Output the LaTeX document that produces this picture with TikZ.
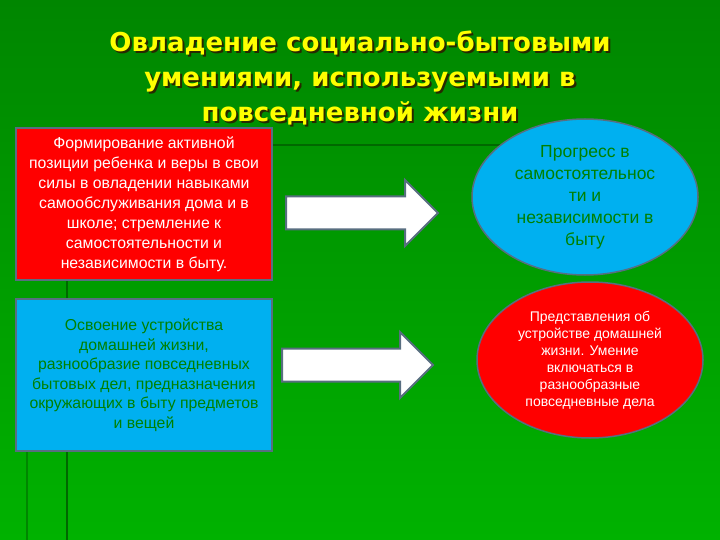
\documentclass[tikz,border=0pt]{standalone}
\usepackage{fontspec}
\setmainfont{Liberation Sans}
\newfontfamily\titlefont{DejaVu Sans}
\usetikzlibrary{shapes.geometric,positioning}
\definecolor{bgtop}{RGB}{0,134,0}
\definecolor{bgbot}{RGB}{0,178,0}
\definecolor{vline}{RGB}{0,104,0}
\definecolor{vframe}{RGB}{88,110,128}
\definecolor{vred}{RGB}{255,0,0}
\definecolor{vblue}{RGB}{0,176,240}
\definecolor{vtxt}{RGB}{0,128,0}
\definecolor{vyellow}{RGB}{255,255,0}
\definecolor{vshadow}{RGB}{40,40,0}
\tikzset{
  box/.style={draw=vframe,line width=2pt,minimum width=256pt,minimum height=152pt,align=center,inner sep=0pt},
  oval/.style={ellipse,draw=vframe,line width=1.5pt,minimum width=226pt,minimum height=156pt,inner sep=0pt,align=center},
  barr/.style={fill=white,draw=vframe,line width=2pt,line join=miter},
  ttl/.style={font=\titlefont\bfseries\fontsize{26}{35}\selectfont,align=center},
  deco/.style={draw=vline,line width=2pt},
}
\begin{document}
\begin{tikzpicture}[x=1pt,y=-1pt]
  % background
  \shade[top color=bgtop,bottom color=bgbot] (0,0) rectangle (720,540);
  \useasboundingbox (0,0) rectangle (720,540);
  \draw[deco] (16,145) -- (560,145);
  \draw[deco] (67,140) -- (67,540);
  \draw[deco,draw=vline!60!bgbot] (27,300) -- (27,540);
  % title
  \node[ttl,text=vshadow] (ttlsh) at (362,80) {Овладение социально-бытовыми\\умениями, используемыми в\\повседневной жизни};
  \node[ttl,text=vyellow] (ttl) at (360,78) {Овладение социально-бытовыми\\умениями, используемыми в\\повседневной жизни};
  % left boxes
  \node[box,fill=vred,text=white,font=\fontsize{15.8}{20}\selectfont] (form) at (144,204) {Формирование активной\\позиции ребенка и веры в свои\\силы в овладении навыками\\самообслуживания дома и в\\школе; стремление к\\самостоятельности и\\независимости в быту.};
  \node[box,fill=vblue,text=vtxt,font=\fontsize{15.8}{19.5}\selectfont] (osv) at (144,375) {Освоение устройства\\домашней жизни,\\разнообразие повседневных\\бытовых дел, предназначения\\окружающих в быту предметов\\и вещей};
  % right ovals
  \node[oval,fill=vblue,text=vtxt,font=\fontsize{17.5}{22}\selectfont] (prog) at (585,197) {Прогресс в\\самостоятельнос\\ти и\\независимости в\\быту};
  \node[oval,fill=vred,text=white,font=\fontsize{14}{17}\selectfont] (pred) at (590,360) {Представления об\\устройстве домашней\\жизни. Умение\\включаться в\\разнообразные\\повседневные дела};
  % block arrows
  \foreach \yy/\xl/\xh/\xt in {213/286/405/438, 365/282/400/433} {
    \draw[barr] (\xl,\yy-16.5) -- (\xh,\yy-16.5) -- (\xh,\yy-33) -- (\xt,\yy)
      -- (\xh,\yy+33) -- (\xh,\yy+16.5) -- (\xl,\yy+16.5) -- cycle;
  }
\end{tikzpicture}
\end{document}
